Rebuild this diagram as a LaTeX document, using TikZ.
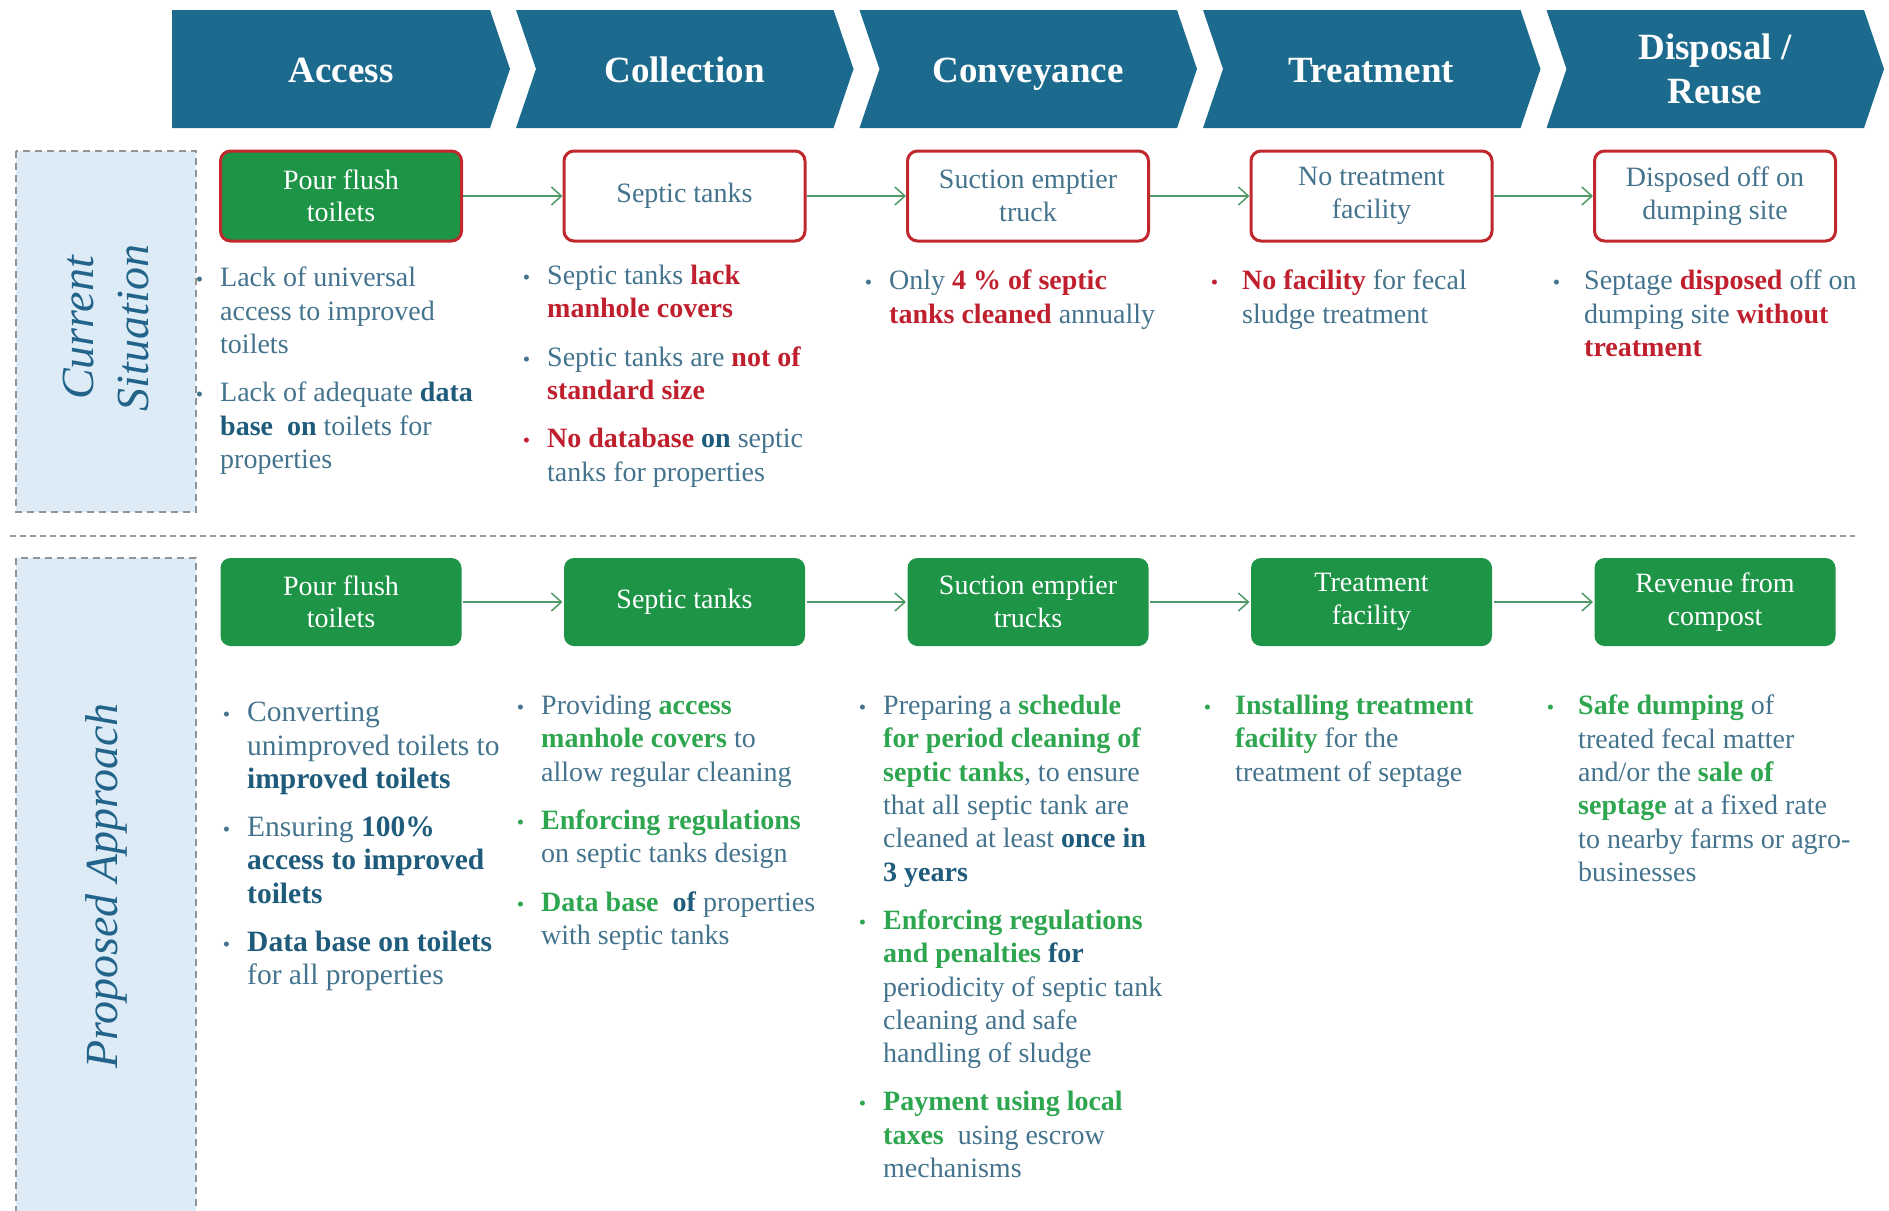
\documentclass[tikz,border=0pt]{standalone}
\usepackage{fontspec}
\setmainfont{Liberation Serif}
\usetikzlibrary{arrows.meta,positioning}

\definecolor{bannerblue}{HTML}{1C6A8D}
\definecolor{labelfill}{HTML}{DDEBF7}
\definecolor{labeltxt}{HTML}{22638A}
\definecolor{boxgreen}{HTML}{1E9447}
\definecolor{boxred}{HTML}{C0282D}
\definecolor{arrowgreen}{HTML}{4F9A68}
\definecolor{bodytxt}{HTML}{44738D}
\definecolor{hired}{HTML}{C0202E}
\definecolor{higreen}{HTML}{2EA64F}
\definecolor{hiteal}{HTML}{1F5C7C}

% highlighted words
\newcommand\rd[1]{\textcolor{hired}{\textbf{#1}}}
\newcommand\gn[1]{\textcolor{higreen}{\textbf{#1}}}
\newcommand\tl[1]{\textcolor{hiteal}{\textbf{#1}}}
% hanging bullets
\newcommand\bul[1][bodytxt]{\llap{\textcolor{#1}{\fontsize{21}{21}\selectfont\textbullet}\hspace{17pt}}}
\newcommand\bulw[1][bodytxt]{\llap{\textcolor{#1}{\fontsize{21}{21}\selectfont\textbullet}\hspace{24pt}}}

\tikzset{
  stage/.style={fill=bannerblue, draw=none},
  stagetxt/.style={text=white, font=\fontsize{37}{44}\selectfont\bfseries, align=center},
  sidebox/.style={fill=labelfill, draw=gray!85, dash pattern=on 7pt off 5pt, line width=1.3pt},
  sidetxt/.style={text=labeltxt, font=\fontsize{46}{55}\selectfont\itshape, align=center, rotate=90},
  nowbox/.style={draw=boxred, line width=3pt, rounded corners=10pt, fill=white, text=bodytxt,
    minimum width=241pt, minimum height=90pt, align=center, font=\fontsize{28}{32.5}\selectfont},
  nowgreen/.style={nowbox, fill=boxgreen, text=white},
  newbox/.style={nowbox, draw=none, fill=boxgreen, text=white, minimum height=88pt},
  flow/.style={draw=arrowgreen, line width=1.5pt, -{Straight Barb[length=10pt,width=18pt]}},
  notes/.style={anchor=north west, align=left, inner sep=0pt, text=bodytxt, font=\fontsize{28}{33.3}\selectfont},
  sepline/.style={draw=gray!80, dash pattern=on 6pt off 4pt, line width=1.2pt},
}

\begin{document}
\begin{tikzpicture}[x=1pt, y=-1pt]
  \useasboundingbox (0,0) rectangle (1889,1210);

  % stage banner
  \fill[stage] (172,10) -- (490,10) -- (510,69) -- (490,128) -- (172,128) -- cycle;
  \foreach \k in {1,...,4}
    \fill[stage] ({172.5+343.5*\k},10) -- ({490+343.5*\k},10) -- ({510+343.5*\k},69)
      -- ({490+343.5*\k},128) -- ({172.5+343.5*\k},128) -- ({192.5+343.5*\k},69) -- cycle;
  \node[stagetxt, anchor=base] (hAccess) at (341,82) {Access};
  \node[stagetxt, anchor=base] (hCollect) at (684.5,82) {Collection};
  \node[stagetxt, anchor=base] (hConvey) at (1028,82) {Conveyance};
  \node[stagetxt, anchor=base] (hTreat) at (1371.5,82) {Treatment};
  \node[stagetxt] (hReuse) at (1715,69) {Disposal /\\Reuse};

  % side labels
  \draw[sidebox] (16,151) rectangle (196,512);
  \draw[sidebox] (16,558) rectangle (196,1230);
  \node[sidetxt] (sideNow) at (106,328) {Current\\Situation};
  \node[sidetxt] (sideNew) at (106,886) {Proposed Approach};

  \draw[sepline] (10,536) -- (1855,536);

  % current situation
  \node[nowgreen] (now1) at (341,196) {Pour flush\\toilets};
  \node[nowbox] (now2) at (684.5,196) {Septic tanks};
  \node[nowbox] (now3) at (1028,196) {Suction emptier\\truck};
  \node[nowbox] (now4) at (1371.5,196) {No treatment\\facility};
  \node[nowbox] (now5) at (1715,196) {Disposed off on\\dumping site};
  \foreach \a/\b in {now1/now2,now2/now3,now3/now4,now4/now5}
    \draw[flow] (\a) -- (\b);

  \node[notes] (nowA) at (220,267) {\bul Lack of universal\\access to improved\\toilets\\[15pt]
    \bul Lack of adequate \tl{data}\\\tl{base\ \ on} toilets for\\properties};
  \node[notes] (nowB) at (547,265) {\bul Septic tanks \rd{lack}\\\rd{manhole covers}\\[15pt]
    \bul Septic tanks are \rd{not of}\\\rd{standard size}\\[15pt]
    \bul[hired]\rd{No database} \tl{on} septic\\tanks for properties};
  \node[notes] (nowC) at (889,270) {\bul Only \rd{4 \% of septic}\\\rd{tanks cleaned} annually};
  \node[notes] (nowD) at (1242,270) {\bulw[hired]\rd{No facility} for fecal\\sludge treatment};
  \node[notes] (nowE) at (1584,270) {\bulw Septage \rd{disposed} off on\\dumping site \rd{without}\\\rd{treatment}};

  % proposed approach
  \node[newbox] (new1) at (341,602) {Pour flush\\toilets};
  \node[newbox] (new2) at (684.5,602) {Septic tanks};
  \node[newbox] (new3) at (1028,602) {Suction emptier\\trucks};
  \node[newbox] (new4) at (1371.5,602) {Treatment\\facility};
  \node[newbox] (new5) at (1715,602) {Revenue from\\compost};
  \foreach \a/\b in {new1/new2,new2/new3,new3/new4,new4/new5}
    \draw[flow] (\a) -- (\b);

  \node[notes, font=\fontsize{29.5}{33.3}\selectfont] (newA) at (247,702) {\bul Converting\\unimproved toilets to\\\tl{improved toilets}\\[15pt]
    \bul Ensuring \tl{100\%}\\\tl{access to improved}\\\tl{toilets}\\[15pt]
    \bul\tl{Data base on toilets}\\for all properties};
  \node[notes] (newB) at (541,695) {\bul Providing \gn{access}\\\gn{manhole covers} to\\allow regular cleaning\\[15pt]
    \bul[higreen]\gn{Enforcing regulations}\\on septic tanks design\\[15pt]
    \bul[higreen]\gn{Data base}\ \ \tl{of} properties\\with septic tanks};
  \node[notes] (newC) at (883,695) {\bul Preparing a \gn{schedule}\\\gn{for period cleaning of}\\\gn{septic tanks}, to ensure\\that all septic tank are\\cleaned at least \tl{once in}\\\tl{3 years}\\[15pt]
    \bul[higreen]\gn{Enforcing regulations}\\\gn{and penalties} \tl{for}\\periodicity of septic tank\\cleaning and safe\\handling of sludge\\[15pt]
    \bul[higreen]\gn{Payment using local}\\\gn{taxes}\ \ using escrow\\mechanisms};
  \node[notes] (newD) at (1235,695) {\bulw[higreen]\gn{Installing treatment}\\\gn{facility} for the\\treatment of septage};
  \node[notes] (newE) at (1578,695) {\bulw[higreen]\gn{Safe dumping} of\\treated fecal matter\\and/or the \gn{sale of}\\\gn{septage} at a fixed rate\\to nearby farms or agro-\\businesses};
\end{tikzpicture}
\end{document}
